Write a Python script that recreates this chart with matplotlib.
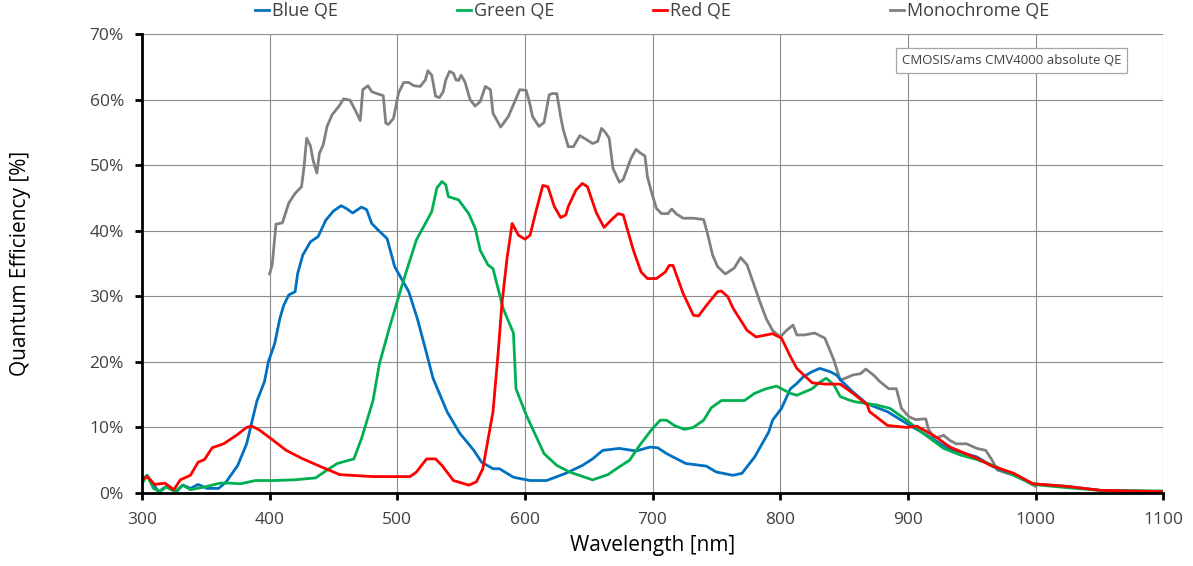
import matplotlib.pyplot as plt
import matplotlib.ticker as mtick

plt.rcParams['font.family'] = ['Open Sans', 'DejaVu Sans']

blue_nm = [300, 304, 313, 319, 327, 332, 338, 344, 351, 360, 366, 375, 382, 390, 396, 399, 404, 408, 411,
           415, 420, 422, 426, 432, 438, 444, 450, 456, 460, 465, 472, 476, 480, 485, 492, 498, 509, 516,
           522, 528, 539, 549, 560, 566, 575, 580, 591, 604, 617, 632, 645, 653, 661, 674, 687, 698, 704,
           711, 719, 726, 742, 750, 763, 770, 780, 791, 794, 801, 808, 813, 818, 825, 831, 839, 844, 849,
           857, 868, 884, 899, 915, 931, 954, 967, 983, 998, 1025, 1051, 1100]
blue_qe = [2.0, 2.7, 0.2, 1.0, 0.2, 1.2, 0.7, 1.3, 0.7, 0.7, 1.7, 4.2, 7.5, 14.0, 17.0, 20.0, 22.8, 26.6, 28.6,
           30.2, 30.7, 33.5, 36.3, 38.3, 39.1, 41.6, 43.0, 43.8, 43.4, 42.7, 43.6, 43.2, 41.1, 40.1, 38.8, 34.5,
           30.7, 26.4, 22.0, 17.5, 12.4, 9.1, 6.5, 4.7, 3.7, 3.7, 2.4, 1.9, 1.9, 3.0, 4.2, 5.2, 6.5, 6.8, 6.4,
           7.0, 6.9, 6.0, 5.2, 4.5, 4.1, 3.2, 2.7, 3.0, 5.5, 9.3, 11.1, 12.9, 15.9, 16.7, 17.7, 18.5, 19.0, 18.5,
           18.0, 16.9, 15.4, 13.6, 12.4, 10.6, 8.8, 6.8, 5.5, 4.0, 2.7, 1.4, 1.0, 0.4, 0.2]

green_nm = [300, 304, 309, 314, 319, 326, 332, 338, 351, 361, 369, 377, 389, 403, 419, 436, 445, 453, 466,
            472, 481, 486, 494, 505, 515, 527, 531, 535, 538, 540, 548, 556, 561, 565, 571, 575, 583, 591,
            593, 601, 615, 625, 635, 653, 665, 674, 682, 690, 699, 706, 711, 717, 725, 732, 740, 746, 754,
            763, 772, 780, 789, 797, 802, 808, 813, 825, 831, 836, 842, 847, 855, 859, 876, 886, 899, 912,
            928, 941, 954, 967, 983, 998, 1025, 1051, 1100]
green_qe = [1.4, 2.7, 0.7, 0.2, 0.9, 0.2, 1.2, 0.5, 1.0, 1.5, 1.5, 1.4, 1.9, 1.9, 2.0, 2.3, 3.5, 4.5, 5.2,
            8.3, 14.1, 19.7, 25.3, 32.5, 38.6, 42.9, 46.5, 47.5, 47.0, 45.2, 44.7, 42.6, 40.4, 37.0, 34.8,
            34.2, 28.1, 24.4, 15.9, 11.9, 6.0, 4.2, 3.2, 2.0, 2.8, 4.0, 5.0, 7.3, 9.6, 11.1, 11.1, 10.3, 9.7,
            10.0, 11.1, 13.0, 14.1, 14.1, 14.1, 15.2, 15.9, 16.3, 15.8, 15.2, 14.9, 15.9, 16.9, 17.5, 16.5,
            14.7, 14.1, 13.9, 13.4, 12.9, 11.1, 9.1, 6.8, 5.8, 5.1, 4.2, 2.7, 1.3, 0.8, 0.4, 0.3]

red_nm = [300, 304, 310, 318, 325, 330, 338, 344, 349, 355, 364, 374, 382, 386, 392, 403, 413, 425, 439,
          455, 481, 510, 515, 523, 530, 535, 544, 556, 562, 567, 575, 579, 582, 586, 590, 595, 600, 604,
          609, 614, 618, 623, 628, 632, 634, 640, 645, 649, 656, 662, 668, 673, 677, 685, 691, 696, 703,
          710, 713, 716, 724, 732, 736, 743, 751, 754, 759, 763, 774, 781, 789, 794, 801, 808, 813, 825,
          836, 847, 857, 868, 870, 884, 899, 907, 920, 933, 954, 965, 983, 998, 1025, 1051, 1100]
red_qe = [2.0, 2.5, 1.3, 1.5, 0.5, 2.0, 2.7, 4.7, 5.1, 6.9, 7.5, 8.8, 10.0, 10.2, 9.6, 8.0, 6.5, 5.3, 4.1,
          2.8, 2.5, 2.5, 3.2, 5.2, 5.2, 4.2, 1.9, 1.2, 1.7, 3.7, 12.4, 21.3, 28.9, 35.8, 41.1, 39.3, 38.7,
          39.3, 43.2, 46.9, 46.7, 43.7, 42.0, 42.4, 43.7, 46.2, 47.2, 46.7, 42.7, 40.5, 41.7, 42.6, 42.4,
          37.0, 33.7, 32.7, 32.7, 33.7, 34.7, 34.7, 30.4, 27.1, 27.0, 28.8, 30.7, 30.8, 29.9, 28.2, 24.8,
          23.8, 24.1, 24.3, 23.6, 20.8, 19.0, 16.8, 16.6, 16.6, 15.2, 13.5, 12.4, 10.3, 10.0, 10.2, 8.8,
          7.0, 5.3, 4.2, 3.0, 1.4, 1.0, 0.4, 0.2]

mono_nm = [400, 402, 405, 410, 415, 420, 425, 427, 429, 432, 434, 437, 439, 442, 445, 449, 454, 458, 463,
           467, 471, 473, 477, 480, 484, 489, 491, 493, 497, 501, 505, 509, 513, 518, 522, 524, 527, 530,
           533, 536, 538, 541, 544, 546, 548, 550, 553, 557, 561, 565, 569, 573, 575, 581, 587, 596, 601,
           604, 606, 611, 615, 619, 621, 625, 628, 630, 634, 638, 643, 649, 653, 657, 660, 663, 666, 669,
           674, 677, 683, 687, 690, 694, 696, 699, 703, 707, 712, 715, 719, 724, 732, 740, 743, 747, 751,
           757, 764, 769, 774, 779, 784, 789, 794, 800, 805, 810, 813, 819, 827, 835, 842, 847, 851, 857,
           863, 867, 873, 878, 885, 891, 895, 901, 906, 914, 916, 920, 924, 928, 933, 938, 946, 954, 961,
           966, 970, 978, 983, 991, 1000]
mono_qe = [33.4, 34.8, 41.0, 41.2, 44.2, 45.7, 46.7, 49.8, 54.1, 52.9, 50.8, 48.8, 51.8, 53.1, 55.9, 57.7,
           58.9, 60.1, 59.9, 58.4, 56.8, 61.5, 62.1, 61.2, 60.9, 60.6, 56.4, 56.2, 57.1, 61.0, 62.6, 62.6,
           62.1, 62.0, 63.0, 64.4, 63.7, 60.5, 60.3, 61.2, 63.0, 64.3, 64.0, 63.0, 62.9, 63.7, 62.7, 60.0,
           59.0, 59.7, 62.0, 61.5, 57.9, 55.8, 57.4, 61.5, 61.4, 59.2, 57.4, 55.9, 56.5, 60.7, 60.9, 60.9,
           57.4, 55.4, 52.8, 52.8, 54.5, 53.8, 53.3, 53.6, 55.6, 55.0, 54.1, 49.5, 47.4, 47.8, 51.0, 52.4,
           51.9, 51.4, 48.2, 46.0, 43.4, 42.6, 42.6, 43.3, 42.5, 41.9, 41.9, 41.7, 39.6, 36.3, 34.5, 33.4,
           34.3, 35.9, 34.8, 32.0, 29.2, 26.6, 24.8, 23.8, 24.8, 25.6, 24.1, 24.1, 24.4, 23.6, 20.3, 17.2,
           17.5, 18.0, 18.2, 18.9, 18.0, 17.0, 15.9, 15.9, 12.9, 11.6, 11.2, 11.3, 9.8, 8.5, 8.5, 8.8, 8.0,
           7.5, 7.5, 6.8, 6.5, 5.0, 3.5, 3.0, 2.8, 2.0, 1.0]

fig = plt.figure(figsize=(11.93, 5.66), dpi=100)
ax = fig.add_axes([0.119, 0.129, 0.856, 0.811])

lb, = ax.plot(blue_nm, blue_qe, color='#0070C0', lw=2.0, label='Blue QE')
lg, = ax.plot(green_nm, green_qe, color='#00B050', lw=2.0, label='Green QE')
lm, = ax.plot(mono_nm, mono_qe, color='#808080', lw=2.0, label='Monochrome QE', zorder=1.5)
lr, = ax.plot(red_nm, red_qe, color='#FF0000', lw=2.0, label='Red QE')

ax.set_xlim(300, 1100)
ax.set_ylim(0, 70)
ax.set_xticks(range(300, 1101, 100))
ax.set_yticks(range(0, 71, 10))
ax.yaxis.set_major_formatter(mtick.FormatStrFormatter('%d%%'))
ax.grid(True, color='#8C8C8C', lw=0.8)
ax.set_axisbelow(True)
for s in ['top', 'right']:
    ax.spines[s].set_visible(False)
for s in ['left', 'bottom']:
    ax.spines[s].set_linewidth(2.0)
    ax.spines[s].set_color('black')
ax.tick_params(axis='both', labelsize=12.5, width=2.0, length=5, color='black', labelcolor='#404040',
               direction='out')
ax.tick_params(axis='x', pad=9)
ax.tick_params(axis='y', pad=8)
ax.set_xlabel('Wavelength [nm]', fontsize=15, labelpad=5)
ax.set_ylabel('Quantum Efficiency [%]', fontsize=15, labelpad=42)

ax.text(981, 65.9, 'CMOSIS/ams CMV4000 absolute QE', fontsize=9.5, ha='center', va='center',
        color='#404040', bbox=dict(boxstyle='square,pad=0.45', fc='white', ec='#A6A6A6', lw=0.9))

# legend entries sit at uneven spots along the top, as in the original
for line, xpos in [(lb, 255), (lg, 457), (lr, 653), (lm, 890)]:
    fig.legend([line], [line.get_label()], loc='upper left', bbox_to_anchor=(xpos / 1193, 0.996),
               frameon=False, fontsize=13, handlelength=0.8, handletextpad=0.15, borderpad=0,
               borderaxespad=0, labelcolor='#404040')

fig.savefig('out.png', dpi=100)
